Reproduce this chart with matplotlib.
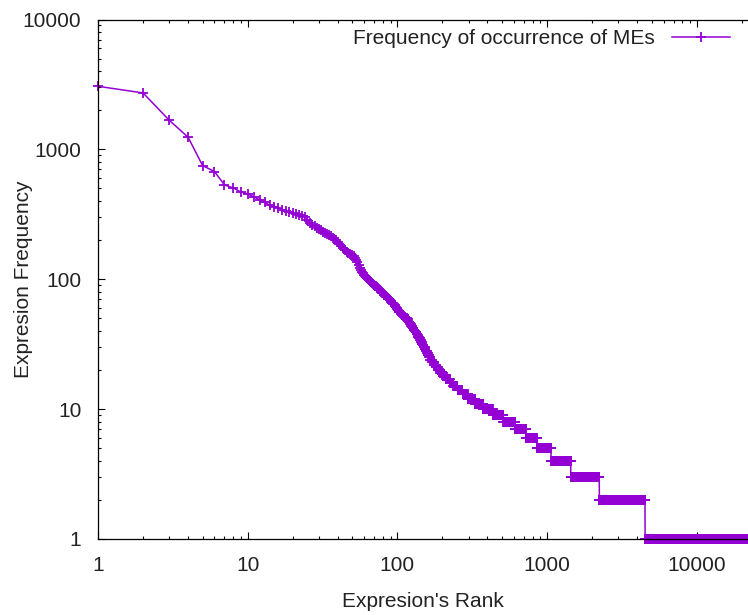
import numpy as np
import matplotlib
matplotlib.use("Agg")
import matplotlib.pyplot as plt
from matplotlib.ticker import FixedLocator, FixedFormatter, LogLocator, NullFormatter

# frequency of each of the first 110 ranks
head_freq = [
    3060, 2720, 1670, 1240, 750, 675, 532, 505, 470, 455,
    430, 410, 392, 372, 360, 352, 343, 335, 328, 322,
    316, 311, 307, 302, 285, 272, 262, 255, 249, 243,
    238, 233, 228, 224, 220, 214, 209, 205, 201, 194,
    187, 181, 175, 170, 167, 163, 160, 157, 155, 153,
    150, 146, 141, 135, 128, 122, 118, 114, 111, 108,
    106, 104, 102, 100, 99, 97, 95, 94, 92, 91,
    89, 88, 87, 85, 84, 83, 82, 80, 79, 78,
    77, 76, 75, 74, 73, 72, 71, 70, 69, 68,
    67, 66, 66, 65, 64, 63, 62, 61, 60, 59,
    58, 57, 56, 56, 55, 54, 53, 53, 52, 52,
]

# beyond that: frequency level and the last rank holding it
tail_freq = [51, 50, 49, 48, 47, 46, 45, 44, 43, 42,
             41, 40, 39, 38, 37, 36, 35, 34, 33, 32,
             31, 30, 29, 28, 27, 26, 25, 24, 23, 22,
             21, 20, 19, 18, 17, 16, 15, 14, 13, 12,
             11, 10, 9, 8, 7, 6, 5, 4, 3, 2, 1]
tail_last_rank = [113, 116, 117, 118, 120, 121, 123, 125, 126, 128,
                  130, 132, 134, 136, 137, 139, 141, 143, 145, 147,
                  149, 152, 154, 157, 159, 162, 165, 170, 175, 180,
                  186, 193, 201, 211, 223, 236, 252, 272, 295, 330,
                  373, 433, 510, 610, 720, 860, 1062, 1438, 2232, 4510, 22000]

y_ticks = [1, 10, 100, 1000, 10000]
x_ticks = [1, 10, 100, 1000, 10000]

# expand the run lengths
counts = np.diff([len(head_freq)] + tail_last_rank)
freq = np.concatenate([head_freq, np.repeat(tail_freq, counts)])
rank = np.arange(1, len(freq) + 1)

plt.rcParams['font.family'] = ['Liberation Sans', 'DejaVu Sans']
fig = plt.figure(figsize=(7.48, 6.15), dpi=100)
ax = fig.add_axes([98 / 748, 1 - 539 / 615, 650 / 748, 519.5 / 615])

purple = '#9400D3'
ax.plot(rank, freq, color=purple, lw=1.1, marker='+', markersize=7,
        markeredgewidth=1.3, clip_on=False, label='Frequency of occurrence of MEs')

ax.set_xscale('log')
ax.set_yscale('log')
ax.set_xlim(1, 22000)
ax.set_ylim(1, 10000)

ax.xaxis.set_major_locator(FixedLocator(x_ticks))
ax.xaxis.set_major_formatter(FixedFormatter([str(v) for v in x_ticks]))
ax.yaxis.set_major_locator(FixedLocator(y_ticks))
ax.yaxis.set_major_formatter(FixedFormatter([str(v) for v in y_ticks]))
ax.xaxis.set_minor_locator(LogLocator(base=10, subs=np.arange(2, 10)))
ax.yaxis.set_minor_locator(LogLocator(base=10, subs=np.arange(2, 10)))
ax.xaxis.set_minor_formatter(NullFormatter())
ax.yaxis.set_minor_formatter(NullFormatter())

ax.spines['right'].set_visible(False)
for s in ['left', 'bottom', 'top']:
    ax.spines[s].set_linewidth(0.9)
ax.tick_params(which='both', direction='in', top=True, right=False,
               labelsize=15, width=0.8, labelcolor='#222222')
ax.tick_params(which='major', length=5)
ax.tick_params(which='minor', length=2.5)
ax.tick_params(axis='x', which='major', pad=12.5)
ax.tick_params(axis='y', which='major', pad=12)

ax.set_xlabel("Expresion's Rank", fontsize=15, color='#222222')
ax.set_ylabel("Expresion Frequency", fontsize=15, color='#222222')
ax.xaxis.set_label_coords(0.5, -0.102)
ax.yaxis.set_label_coords(-0.100, 0.5)

leg = ax.legend(loc='upper right', bbox_to_anchor=(0.9723, 0.981), frameon=False,
                markerfirst=False, numpoints=1, fontsize=15, handlelength=2.8,
                handletextpad=0.8, borderpad=0, borderaxespad=0)
for t in leg.get_texts():
    t.set_color('#222222')

fig.savefig('out.png', dpi=100)
